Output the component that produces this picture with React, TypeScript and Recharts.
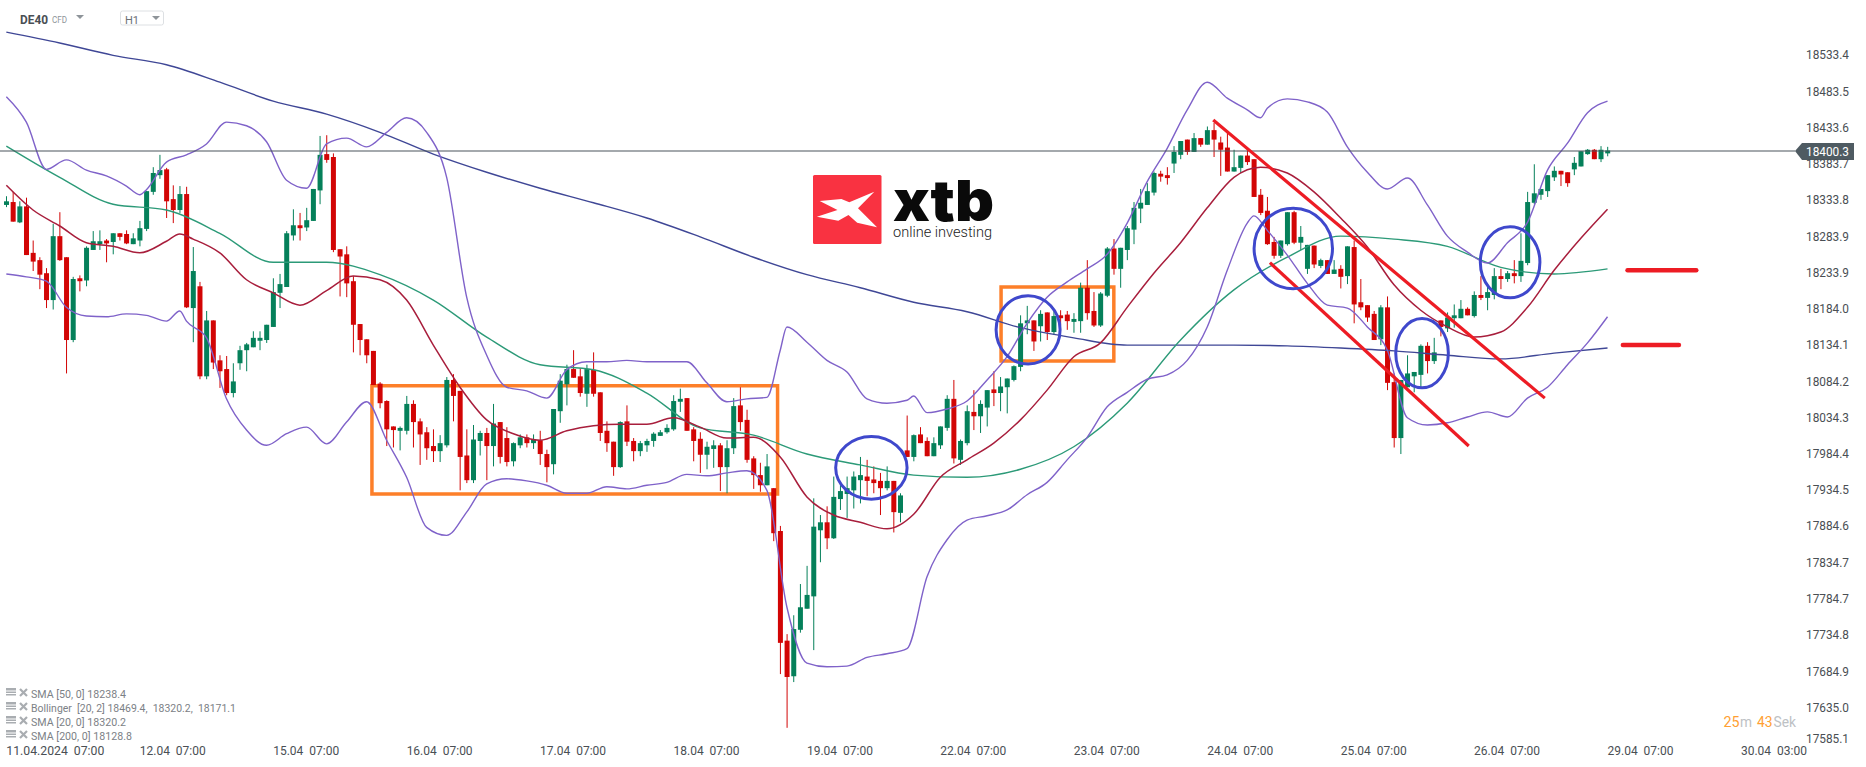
import React from 'react';
import {
  ComposedChart,
  Bar,
  Line,
  XAxis,
  YAxis,
  ReferenceLine,
  ReferenceArea,
  ReferenceDot,
} from 'recharts';

// OHLC per H1 candle, 11.04 07:00 to 29.04 07:00
const opens = [
  18326,18330,18302,18324,18260,18250,18232,18195,18283,18254,
  18140,18225,18222,18264,18272,18277,18275,18287,18286,18272,
  18277,18293,18344,18367,18375,18334,18319,18341,18184,18214,
  18090,18167,18112,18100,18067,18108,18126,18130,18139,18140,
  18158,18205,18213,18284,18298,18295,18304,18346,18396,18392,
  18265,18258,18221,18162,18141,18125,18080,18056,18021,18015,
  18015,18052,18028,18013,17994,17987,17995,18085,18070,17981,
  17947,18001,18012,17994,18027,18005,17973,17995,18006,17998,
  18002,17983,17969,18042,18079,18100,18090,18066,18099,18068,
  18015,18000,17965,18028,18001,17987,17995,18001,18008,18013,
  18017,18055,18060,18017,18004,17982,17990,17995,17965,17991,
  18050,18030,17977,17954,17940,17936,17877,17726,17677,17741,
  17770,17787,17878,17889,17867,17921,17928,17933,17947,17952,
  17948,17946,17936,17946,17902,17988,17979,18010,18001,17980,
  17995,18019,18059,17975,17998,18041,18035,18047,18072,18067,
  18075,18085,18103,18163,18167,18159,18178,18151,18174,18175,
  18165,18166,18212,18180,18160,18201,18266,18238,18264,18292,
  18321,18326,18343,18369,18367,18383,18395,18416,18399,18418,
  18409,18429,18412,18405,18372,18377,18394,18389,18340,18318,
  18275,18256,18272,18316,18274,18238,18270,18242,18250,18231,
  18238,18228,18268,18192,18188,18176,18141,18185,18082,18005,
  18075,18090,18092,18132,18111,18167,18156,18170,18170,18183,
  18173,18202,18198,18202,18228,18224,18232,18228,18246,18329,
  18340,18345,18364,18373,18371,18375,18379,18396,18402,18389,
  18397,
];
const highs = [
  18338,18344,18331,18336,18277,18254,18239,18300,18316,18254,
  18227,18229,18269,18290,18291,18279,18287,18287,18291,18287,
  18304,18345,18378,18395,18377,18353,18352,18351,18268,18220,
  18180,18167,18119,18118,18108,18132,18136,18152,18152,18161,
  18225,18231,18290,18320,18315,18322,18348,18421,18422,18397,
  18265,18269,18228,18162,18141,18125,18082,18057,18021,18021,
  18063,18057,18032,18020,18017,18009,18089,18093,18070,18017,
  18023,18015,18019,18052,18027,18020,17999,18010,18010,18010,
  18015,17989,18045,18093,18106,18126,18101,18106,18123,18068,
  18028,18000,18028,18050,18005,18001,18004,18013,18016,18024,
  18064,18073,18060,18020,18013,18000,18002,17998,18002,18060,
  18075,18044,17980,17971,17983,17936,17884,17735,17761,17804,
  17829,17922,17899,17911,17952,17940,17952,17959,17979,17975,
  17966,17957,17966,17946,17929,18036,18010,18020,18006,18006,
  18021,18064,18085,18003,18050,18071,18057,18071,18097,18089,
  18087,18105,18174,18187,18167,18181,18178,18181,18181,18180,
  18177,18219,18250,18206,18206,18268,18279,18267,18297,18330,
  18348,18356,18372,18373,18378,18407,18414,18416,18425,18418,
  18434,18439,18420,18427,18402,18394,18402,18389,18348,18337,
  18282,18277,18316,18318,18297,18271,18270,18252,18250,18250,
  18243,18269,18277,18224,18188,18180,18188,18200,18094,18085,
  18119,18096,18134,18137,18143,18167,18178,18189,18195,18185,
  18207,18228,18214,18239,18238,18235,18250,18287,18344,18382,
  18348,18367,18379,18373,18371,18392,18400,18403,18403,18407,
  18406,
];
const lows = [
  18323,18303,18301,18257,18235,18210,18184,18182,18249,18094,
  18137,18207,18214,18264,18264,18247,18258,18277,18272,18272,
  18269,18290,18340,18362,18308,18301,18315,18184,18137,18086,
  18086,18100,18074,18064,18061,18099,18097,18130,18126,18136,
  18158,18184,18213,18277,18277,18290,18304,18327,18384,18261,
  18200,18199,18123,18119,18108,18078,18046,17994,17992,17988,
  18010,17992,17968,17975,17972,17972,17992,18028,17933,17943,
  17943,17981,17947,17966,17970,17966,17966,17991,17992,17990,
  17968,17944,17955,18026,18050,18088,18062,18048,18062,18001,
  17986,17953,17964,17994,17973,17980,17986,17993,18008,18011,
  18015,18041,18015,17973,17957,17962,17964,17932,17929,17983,
  18015,17971,17935,17931,17940,17863,17680,17606,17669,17737,
  17770,17713,17834,17852,17866,17906,17895,17908,17915,17925,
  17929,17899,17933,17875,17889,17979,17973,17998,17980,17980,
  17990,18015,17970,17968,17995,18016,18012,18021,18049,18042,
  18039,18083,18097,18148,18125,18138,18140,18147,18160,18154,
  18150,18150,18168,18158,18158,18199,18230,18212,18250,18272,
  18301,18326,18339,18358,18354,18370,18389,18395,18399,18406,
  18409,18392,18366,18372,18372,18370,18381,18337,18312,18271,
  18252,18253,18270,18272,18264,18231,18239,18239,18231,18231,
  18211,18217,18163,18181,18165,18140,18133,18071,17992,17983,
  18075,18068,18075,18094,18107,18145,18151,18157,18170,18174,
  18171,18195,18181,18196,18210,18220,18218,18220,18243,18327,
  18333,18337,18359,18352,18351,18367,18379,18395,18389,18385,
  18393,
];
const closes = [
  18331,18303,18324,18257,18248,18230,18195,18283,18250,18140,
  18224,18221,18267,18276,18276,18273,18287,18282,18273,18280,
  18294,18345,18370,18374,18331,18319,18341,18185,18235,18090,
  18167,18109,18097,18067,18083,18126,18134,18143,18143,18161,
  18206,18217,18287,18298,18294,18305,18348,18395,18388,18264,
  18255,18218,18161,18140,18119,18078,18053,18017,18016,18019,
  18052,18027,18010,17991,17987,17998,18085,18063,17979,17947,
  18003,18012,17994,18025,17979,17972,17998,18006,17998,18003,
  17983,17965,18045,18084,18100,18088,18067,18100,18066,18012,
  17998,17965,18027,18000,17987,17998,18001,18011,18013,18019,
  18056,18059,18015,18001,17982,17993,17995,17965,17991,18049,
  18027,17975,17954,17940,17966,17874,17723,17676,17742,17772,
  17789,17883,17889,17867,17924,17932,17936,17952,17954,17946,
  17943,17936,17946,17903,17926,17979,18009,17998,17980,17998,
  18021,18059,17977,18001,18042,18035,18052,18071,18067,18076,
  18087,18104,18163,18167,18138,18176,18151,18173,18170,18166,
  18169,18212,18177,18160,18204,18266,18238,18267,18294,18322,
  18329,18345,18370,18365,18363,18399,18414,18399,18418,18409,
  18429,18416,18402,18372,18378,18394,18385,18337,18315,18272,
  18256,18277,18316,18274,18282,18271,18244,18250,18231,18237,
  18227,18269,18189,18185,18171,18140,18185,18081,18005,18085,
  18094,18096,18132,18111,18123,18158,18171,18174,18183,18174,
  18202,18198,18206,18228,18224,18232,18228,18249,18330,18342,
  18348,18367,18373,18368,18356,18384,18400,18402,18389,18402,
  18401,
];

// indicators, read every few candles, plus the turning points between those
const sma200Step = 8;
const sma200 = [
  18564,18549,18532,18519,18495,18469,18451,18426,18396,18371,18349,18329,18308,18282,18254,18230,
  18212,18192,18179,18157,18143,18133,18133,18133,18132,18129,18125,18119,18114,18122,18129,
];
const sma50Step = 8;
const sma50 = [
  18407,18364,18327,18319,18287,18247,18247,18230,18195,18144,18106,18099,18067,18019,18009,17983,
  17968,17954,17951,17962,17993,18053,18140,18209,18254,18283,18279,18269,18240,18231,18238,
];
const sma20Step = 4;
const sma20 = [
  18353,18319,18297,18274,18269,18260,18276,18279,18260,18223,18205,18188,18208,18228,18223,18195,
  18133,18075,18030,18011,18002,18015,18022,18024,18024,18033,18020,18005,18006,17979,17924,17899,
  17889,17880,17900,17951,17975,17998,18030,18071,18117,18136,18185,18232,18274,18322,18364,18378,
  18370,18344,18308,18268,18216,18181,18158,18144,18151,18185,18236,18280,18320,
];
const sma20TurnAt = [26];
const sma20Turn = [18286];
const bollStep = 3;
const bollUpper = [
  18475,18440,18375,18388,18374,18366,18352,18347,18385,18395,
  18410,18440,18435,18413,18360,18349,18410,18418,18406,18426,
  18446,18426,18364,18199,18119,18075,18070,18060,18099,18110,
  18110,18112,18110,18110,18110,18081,18055,18059,18061,18158,
  18137,18112,18096,18059,18053,18057,18040,18045,18056,18085,
  18117,18163,18199,18220,18238,18258,18301,18358,18404,18457,
  18495,18473,18457,18459,18472,18468,18454,18406,18371,18348,
  18363,18326,18283,18261,18246,18274,18302,18374,18411,18453,
  18469,
];
const upperTurnAt = [20, 116, 136, 188];
const upperTurn = [18340, 18126, 18063, 18446];
const bollLower = [
  18231,18227,18221,18185,18173,18172,18176,18174,18166,18166,
  18143,18059,18016,17995,18011,18020,17997,18027,18055,18002,
  17951,17882,17871,17903,17942,17949,17946,17940,17929,17929,
  17938,17935,17940,17944,17955,17953,17957,17960,17933,17772,
  17695,17690,17691,17703,17708,17715,17814,17865,17892,17898,
  17906,17927,17944,17975,18006,18048,18068,18086,18092,18112,
  18158,18236,18301,18291,18257,18218,18188,18184,18158,18126,
  18033,18023,18026,18034,18041,18034,18060,18075,18106,18136,
  18172,
];
const lowerTurnAt = [26, 187];
const lowerTurn = [18180, 18311];

const priceTicks = [
  18533.4,18483.5,18433.6,18383.7,18333.8,18283.9,18233.9,18184.0,18134.1,18084.2,
  18034.3,17984.4,17934.5,17884.6,17834.7,17784.7,17734.8,17684.9,17635.0,17585.1,
];
const timeTicks = [0,20,40,60,80,100,120,140,160,180,200,220,240,260];
const timeLabels = [
  '11.04.2024\u00a0\u00a007:00','12.04\u00a0\u00a007:00','15.04\u00a0\u00a007:00','16.04\u00a0\u00a007:00',
  '17.04\u00a0\u00a007:00','18.04\u00a0\u00a007:00','19.04\u00a0\u00a007:00','22.04\u00a0\u00a007:00',
  '23.04\u00a0\u00a007:00','24.04\u00a0\u00a007:00','25.04\u00a0\u00a007:00','26.04\u00a0\u00a007:00',
  '29.04\u00a0\u00a007:00','30.04\u00a0\u00a003:00',
];
const lastPrice = 18400.3;

// drawn annotations, in candle index / price
const boxes = [
  { x1: 54.8, x2: 115.6, y1: 17928, y2: 18077 },
  { x1: 149.1, x2: 166, y1: 18111, y2: 18213 },
];
const circles = [
  { x: 129.66, y: 17964, rx: 35.7, ry: 31.3 },
  { x: 153.15, y: 18154, rx: 32, ry: 34.2 },
  { x: 192.9, y: 18266, rx: 39.2, ry: 40.3 },
  { x: 212.2, y: 18122, rx: 26.3, ry: 34.7 },
  { x: 225.4, y: 18247, rx: 29.8, ry: 35.5 },
];
const channelLines = [
  { x1: 180.9, y1: 18443, x2: 230.6, y2: 18060 },
  { x1: 189.4, y1: 18246.5, x2: 219.2, y2: 17994 },
];
const levelLines = [
  { x1: 243, x2: 253.3, y: 18236 },
  { x1: 242.3, x2: 250.7, y: 18133 },
];

const legendRows = [
  { text: 'SMA [50, 0] 18238.4', width: 95 },
  { text: 'Bollinger\u00a0\u00a0[20, 2] 18469.4,\u00a0\u00a018320.2,\u00a0\u00a018171.1', width: 205 },
  { text: 'SMA [20, 0] 18320.2', width: 95 },
  { text: 'SMA [200, 0] 18128.8', width: 101 },
];

const candles = opens.map((open, i) => ({
  i,
  open,
  high: highs[i],
  low: lows[i],
  close: closes[i],
}));

// each indicator carries its own points, so no gaps in the candle table
const series = (values: number[], step: number, turnAt: number[] = [], turn: number[] = []) =>
  [
    ...values.map((v, n) => ({ i: n * step, v })),
    ...turnAt.map((i, n) => ({ i, v: turn[n] })),
  ].sort((a, b) => a.i - b.i);

const sma200Points = series(sma200, sma200Step);
const sma50Points = series(sma50, sma50Step);
const sma20Points = series(sma20, sma20Step, sma20TurnAt, sma20Turn);
const upperPoints = series(bollUpper, bollStep, upperTurnAt, upperTurn);
const lowerPoints = series(bollLower, bollStep, lowerTurnAt, lowerTurn);

const FONT = 'Roboto, sans-serif';
const GREEN = '#05805A';
const RED = '#D20505';
const AXIS_TEXT = '#4A4F54';

const Candle = (props: any) => {
  const { x, y, width, height, payload } = props;
  const { open, high, low, close } = payload;
  const k = Math.abs(height) / (high - low);
  const top = Math.min(y, y + height);
  const color = close >= open ? GREEN : RED;
  const bodyTop = top + (high - Math.max(open, close)) * k;
  const bodyH = Math.max(Math.abs(open - close) * k, 1);
  const cx = x + width / 2;
  return (
    <g>
      <line x1={cx} x2={cx} y1={top} y2={top + Math.abs(height)} stroke={color} strokeWidth={1} />
      <rect x={x} y={bodyTop} width={width} height={bodyH} fill={color} />
    </g>
  );
};

const PriceTick = (props: any) => {
  const v = props.payload.value;
  // the lowest label gets pushed up at the chart edge
  const y = v === 17585.1 ? props.y - 5 : props.y;
  return (
    <text x={1806} y={y + 5} fontFamily={FONT} fontSize={13} fill={AXIS_TEXT} textLength={43} lengthAdjust="spacingAndGlyphs">
      {v.toFixed(1)}
    </text>
  );
};

const TimeTick = (props: any) => {
  const idx = timeTicks.indexOf(props.payload.value);
  return (
    <text x={props.x} y={755} fontFamily={FONT} fontSize={13} fill={AXIS_TEXT} textLength={idx === 0 ? 98 : 66} lengthAdjust="spacingAndGlyphs">
      {timeLabels[idx]}
    </text>
  );
};

const PriceTag = (props: any) => {
  const y = props.viewBox.y;
  const right = props.viewBox.x + props.viewBox.width;
  return (
    <g>
      <polygon
        points={`${right},${y} ${right + 7},${y - 8} ${right + 59},${y - 8} ${right + 59},${y + 9} ${right + 7},${y + 9}`}
        fill="#4F5B62"
      />
      <text x={1806} y={y + 5} fontFamily={FONT} fontSize={13} fill="#fff" textLength={43} lengthAdjust="spacingAndGlyphs">
        {lastPrice.toFixed(1)}
      </text>
    </g>
  );
};

const Ellipse = (rx: number, ry: number) => (props: any) =>
  <ellipse cx={props.cx} cy={props.cy} rx={rx} ry={ry} fill="none" stroke="#3F48CC" strokeWidth={3} />;

const Triangle = ({ x, y }: { x: number; y: number }) => (
  <polygon points={`${x},${y} ${x + 8},${y} ${x + 4},${y + 4}`} fill="#8E9499" />
);

const Overlay = () => (
  <svg width={1866} height={767} style={{ position: 'absolute', left: 0, top: 0, pointerEvents: 'none' }}>
    {/* instrument header */}
    <text x={20} y={24} fontFamily={FONT} fontSize={12.5} fontWeight={700} fill="#4A4F54" textLength={28} lengthAdjust="spacingAndGlyphs">DE40</text>
    <text x={52} y={23} fontFamily={FONT} fontSize={8.5} fill="#8E9499" textLength={15} lengthAdjust="spacingAndGlyphs">CFD</text>
    <Triangle x={76} y={15} />
    <rect x={120.5} y={11} width={43} height={14} rx={2} fill="#fff" stroke="#DDE0E3" />
    <text x={125} y={24} fontFamily={FONT} fontSize={11} fill="#6B7075">H1</text>
    <Triangle x={152} y={16} />

    {/* logo */}
    <rect x={813} y={175} width={68.5} height={69} rx={1.5} fill="#F93241" />
    <polygon
      points="819.7,201 841.4,199 849.3,202.3 874.3,191.7 858,208.3 877,227.3 857.2,222.7 848.5,215 838.3,220.7 816.9,216.7 837.5,210"
      fill="#fff"
    />
    <text x={893} y={221} fontFamily="Inter, sans-serif" fontSize={57} fontWeight={900} fill="#0A0A0A" textLength={101} lengthAdjust="spacingAndGlyphs">xtb</text>
    <text x={893} y={237} fontFamily={FONT} fontSize={15} fontWeight={300} fill="#222" textLength={99} lengthAdjust="spacingAndGlyphs">online investing</text>

    {/* indicator legend */}
    {legendRows.map((row, n) => {
      const cy = 694 + n * 14;
      return (
        <g key={row.text}>
          <rect x={6} y={cy - 6} width={10} height={2.5} fill="#A9ADB1" />
          <rect x={6} y={cy - 2.5} width={10} height={1.5} fill="#A9ADB1" />
          <rect x={6} y={cy} width={10} height={1.5} fill="#A9ADB1" />
          <path d={`M20 ${cy - 5} L27 ${cy + 2} M27 ${cy - 5} L20 ${cy + 2}`} stroke="#A9ADB1" strokeWidth={2.2} />
          <text x={31} y={cy + 4} fontFamily={FONT} fontSize={11} fill="#7C8186" textLength={row.width} lengthAdjust="spacingAndGlyphs">
            {row.text}
          </text>
        </g>
      );
    })}

    {/* candle countdown */}
    <text x={1723.4} y={727} fontFamily={FONT} fontSize={15} fill="#FFA033" textLength={16} lengthAdjust="spacingAndGlyphs">25</text>
    <text x={1740} y={727} fontFamily={FONT} fontSize={15} fill="#BDC1C4" textLength={12} lengthAdjust="spacingAndGlyphs">m</text>
    <text x={1757} y={727} fontFamily={FONT} fontSize={15} fill="#FFA033" textLength={15.5} lengthAdjust="spacingAndGlyphs">43</text>
    <text x={1773.5} y={727} fontFamily={FONT} fontSize={15} fill="#BDC1C4" textLength={22.5} lengthAdjust="spacingAndGlyphs">Sek</text>
  </svg>
);

export default function App() {
  return (
    <div style={{ position: 'absolute', left: 0, top: 0, width: 1866, height: 767, background: '#fff' }}>
      <ComposedChart width={1866} height={767} data={candles} margin={{ top: 0, right: 0, bottom: 0, left: 0 }}>
        <XAxis
          dataKey="i"
          type="number"
          domain={[-0.949, 268.1]}
          allowDataOverflow
          ticks={timeTicks}
          interval={0}
          height={24}
          axisLine={false}
          tickLine={false}
          tick={<TimeTick />}
        />
        <YAxis
          orientation="right"
          type="number"
          domain={[17585.1, 18608.2]}
          allowDataOverflow
          ticks={priceTicks}
          interval={0}
          width={71}
          axisLine={false}
          tickLine={false}
          tick={<PriceTick />}
        />
        <Bar dataKey={(d: any) => [d.low, d.high]} barSize={5} shape={<Candle />} isAnimationActive={false} />
        <Line data={sma200Points} dataKey="v" type="monotone" stroke="#3F4796" strokeWidth={1.4} dot={false} activeDot={false} isAnimationActive={false} />
        <Line data={sma50Points} dataKey="v" type="monotone" stroke="#2C9A78" strokeWidth={1.4} dot={false} activeDot={false} isAnimationActive={false} />
        <Line data={upperPoints} dataKey="v" type="monotone" stroke="#7F62C9" strokeWidth={1.4} dot={false} activeDot={false} isAnimationActive={false} />
        <Line data={lowerPoints} dataKey="v" type="monotone" stroke="#7F62C9" strokeWidth={1.4} dot={false} activeDot={false} isAnimationActive={false} />
        <Line data={sma20Points} dataKey="v" type="monotone" stroke="#A81E3C" strokeWidth={1.5} dot={false} activeDot={false} isAnimationActive={false} />
        <ReferenceLine y={lastPrice} stroke="#4A545C" strokeWidth={1.2} label={<PriceTag />} />
        {boxes.map((b, n) => (
          <ReferenceArea key={n} x1={b.x1} x2={b.x2} y1={b.y1} y2={b.y2} fill="none" stroke="#FD7F29" strokeWidth={3.5} />
        ))}
        {channelLines.map((l, n) => (
          <ReferenceLine key={n} segment={[{ x: l.x1, y: l.y1 }, { x: l.x2, y: l.y2 }]} stroke="#ED1C24" strokeWidth={3.2} />
        ))}
        {levelLines.map((l, n) => (
          <ReferenceLine key={n} segment={[{ x: l.x1, y: l.y }, { x: l.x2, y: l.y }]} stroke="#ED1C24" strokeWidth={4.5} strokeLinecap="round" />
        ))}
        {circles.map((c, n) => (
          <ReferenceDot key={n} x={c.x} y={c.y} r={1} shape={Ellipse(c.rx, c.ry)} />
        ))}
      </ComposedChart>
      <Overlay />
    </div>
  );
}
